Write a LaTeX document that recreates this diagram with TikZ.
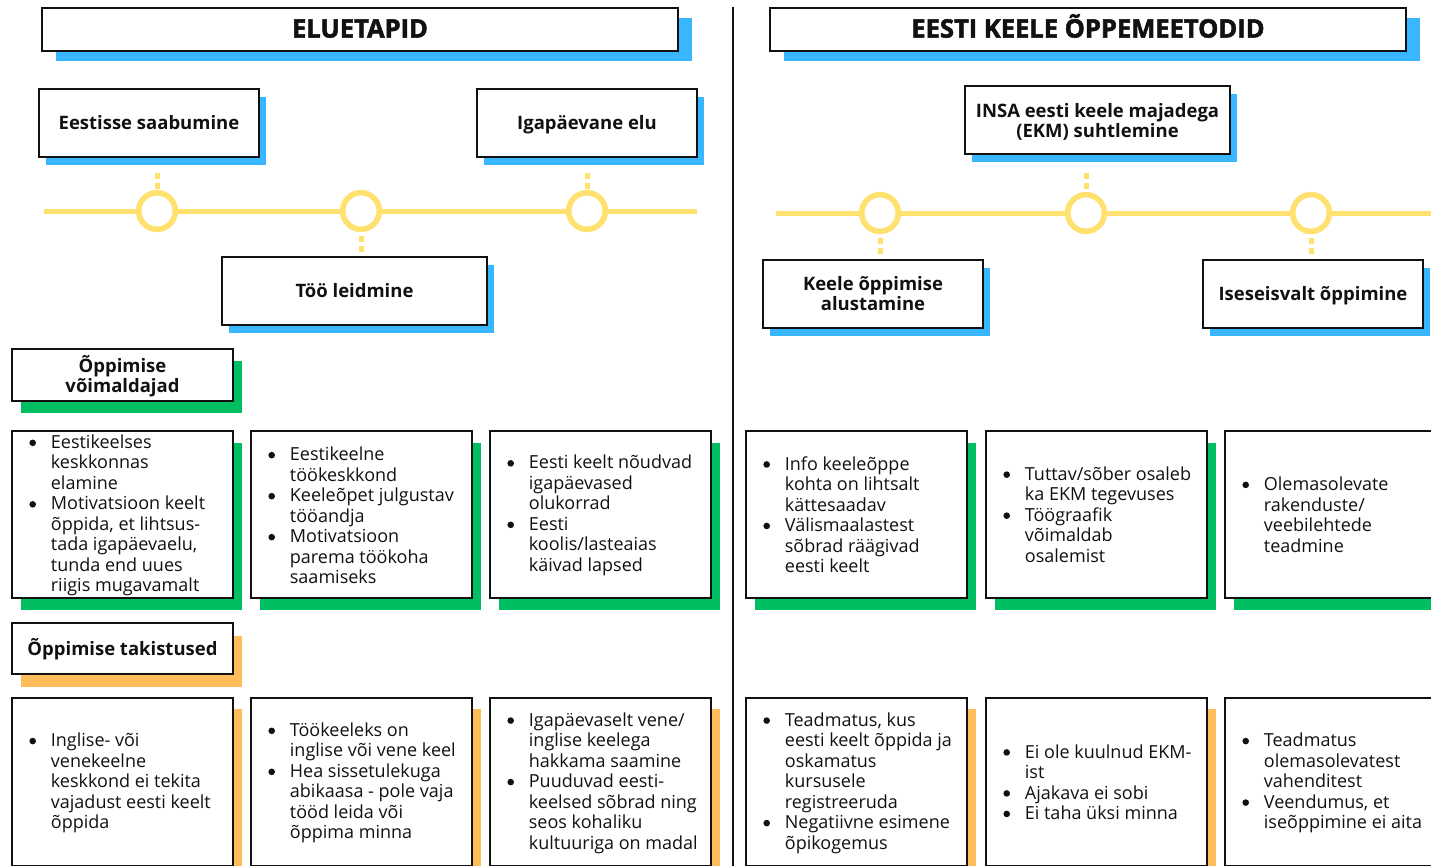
\documentclass[tikz,border=0pt]{standalone}
\usepackage{fontspec}
\setmainfont{Open Sans}
\newfontfamily\titlefam{Open Sans}[BoldFeatures={FakeBold=2}]
\usetikzlibrary{shadows,calc}
\definecolor{sblue}{HTML}{38B6FF}
\definecolor{sgreen}{HTML}{00BF63}
\definecolor{sorange}{HTML}{FFBD59}
\definecolor{syellow}{HTML}{FFE170}
\definecolor{ink}{HTML}{111111}
\newcommand\bodyfont{\fontsize{18}{20.5}\selectfont}
\newcommand\headfont{\bfseries\fontsize{18.5}{20}\selectfont}
\newcommand\titlefont{\titlefam\bfseries\fontsize{25.5}{30}\selectfont}
\newcommand\bi{\makebox[21.5pt][l]{\tikz[baseline=0pt]\fill[ink] (0pt,5.6pt) circle (3.3pt);}}
\newcommand\ci{\hspace*{21.5pt}}
\tikzset{
  box/.style={draw=ink, line width=2.6pt, fill=white, inner sep=0pt, align=center, text=ink},
  shd/.style n args={3}{general shadow={fill=#1, shadow xshift=#2pt, shadow yshift=-#3pt}},
  titlebox/.style={box, shd={sblue}{14}{10}, minimum width=636pt, minimum height=43pt, font=\titlefont, text height=18.2pt, text depth=2pt},
  stagebox/.style={box, shd={sblue}{7}{8}, minimum height=68pt, font=\headfont},
  oneline/.style={text height=13.4pt, text depth=0pt},
  catbox/.style={box, minimum width=221pt, font=\headfont},
  enbox/.style={box, shd={sgreen}{9}{12}, minimum width=221pt, minimum height=167pt},
  barbox/.style={box, shd={sorange}{9}{11}, minimum width=221pt, minimum height=168pt},
  listtext/.style={anchor=west, align=left, inner sep=0pt, font=\bodyfont, text=ink},
  tl/.style={draw=syellow, line width=5pt},
  ring/.style={circle, draw=syellow, line width=5.5pt, fill=white, minimum size=36.5pt, inner sep=0pt},
  conn/.style={draw=syellow, line width=5pt, dash pattern=on 5.5pt off 4.5pt},
  divider/.style={draw=ink, line width=2.2pt}
}
\begin{document}
\begin{tikzpicture}[x=1pt,y=-1pt]
\useasboundingbox[fill=white] (0,0) rectangle (1431,865);

% divider
\draw[divider] (733,7) -- (733,866);

% titles
\node[titlebox] (t1) at (360,29.5) {ELUETAPID};
\node[titlebox] (t2) at (1088,29.5) {EESTI KEELE ÕPPEMEETODID};

% stage boxes left
\node[stagebox, oneline, minimum width=220pt] (eest) at (149,123) {Eestisse saabumine};
\node[stagebox, oneline, minimum width=220pt] (iga) at (587,123) {Igapäevane elu};
\node[stagebox, oneline, minimum width=265pt] (too) at (354.5,291) {Töö leidmine};
% stage boxes right
\node[stagebox, minimum width=265pt] (insa) at (1097.5,120) {};
\node[font=\headfont, align=center, text=ink, inner sep=0pt] (insat) at ($(insa.center)+(0,2)$) {INSA eesti keele majadega\\(EKM) suhtlemine};
\node[stagebox, minimum width=220pt] (keele) at (873,294) {Keele õppimise\\alustamine};
\node[stagebox, oneline, minimum width=220pt] (ise) at (1313,294) {Iseseisvalt õppimine};

% timelines
\draw[tl] (44,211) -- (697,211);
\draw[tl] (776,213) -- (1431,213);
\coordinate (c1p) at (157,211);
\coordinate (c2p) at (361,211);
\coordinate (c3p) at (587,211);
\coordinate (r1p) at (880,213);
\coordinate (r2p) at (1086,213);
\coordinate (r3p) at (1311,213);
\node[ring] (c1) at (c1p) {};
\node[ring] (c2) at (c2p) {};
\node[ring] (c3) at (c3p) {};
\node[ring] (r1) at (r1p) {};
\node[ring] (r2) at (r2p) {};
\node[ring] (r3) at (r3p) {};
\draw[conn] ($(eest.south -| c1.north)+(0,14.75)$) -- (c1.north);
\draw[conn] ($(iga.south -| c3.north)+(0,14.75)$) -- (c3.north);
\draw[conn] ($(too.north -| c2.south)+(0,-3.75)$) -- (c2.south);
\draw[conn] ($(insa.south -| r2.north)+(0,18)$) -- (r2.north);
\draw[conn] ($(keele.north -| r1.south)+(0,-5)$) -- (r1.south);
\draw[conn] ($(ise.north -| r3.south)+(0,-5)$) -- (r3.south);
% rings again on top of the connector stubs
\node[ring] at (c1p) {};
\node[ring] at (c2p) {};
\node[ring] at (c3p) {};
\node[ring] at (r1p) {};
\node[ring] at (r2p) {};
\node[ring] at (r3p) {};

% category boxes
\node[catbox, shd={sgreen}{9}{12}, minimum height=52pt] (opv) at (122.5,375) {};
\node[font=\headfont, align=center, text=ink, inner sep=0pt] (opvt) at ($(opv.center)+(0,1)$) {Õppimise\\võimaldajad};
\node[catbox, oneline, shd={sorange}{9}{13}, minimum height=51pt] (opt) at (122.5,648.5) {Õppimise takistused};

% enabler boxes
\node[enbox] (e1) at (122.5,514.5) {};
\node[enbox] (e2) at (361.5,514.5) {};
\node[enbox] (e3) at (600.5,514.5) {};
\node[enbox] (e4) at (856.5,514.5) {};
\node[enbox] (e5) at (1096.5,514.5) {};
\node[enbox] (e6) at (1335.5,514.5) {};

\node[listtext] (e1t) at ($(e1.west)+(18.5,1)$) {\bi Eestikeelses\\\ci keskkonnas\\\ci elamine\\\bi Motivatsioon keelt\\\ci õppida, et lihtsus-\\\ci tada igapäevaelu,\\\ci tunda end uues\\\ci riigis mugavamalt};
\node[listtext] (e2t) at ($(e2.west)+(18.5,1)$) {\bi Eestikeelne\\\ci töökeskkond\\\bi Keeleõpet julgustav\\\ci tööandja\\\bi Motivatsioon\\\ci parema töökoha\\\ci saamiseks};
\node[listtext] (e3t) at ($(e3.west)+(18.5,1)$) {\bi Eesti keelt nõudvad\\\ci igapäevased\\\ci olukorrad\\\bi Eesti\\\ci koolis/lasteaias\\\ci käivad lapsed};
\node[listtext] (e4t) at ($(e4.west)+(18.5,0)$) {\bi Info keeleõppe\\\ci kohta on lihtsalt\\\ci kättesaadav\\\bi Välismaalastest\\\ci sõbrad räägivad\\\ci eesti keelt};
\node[listtext] (e5t) at ($(e5.west)+(18.5,0)$) {\bi Tuttav/sõber osaleb\\\ci ka EKM tegevuses\\\bi Töögraafik\\\ci võimaldab\\\ci osalemist};
\node[listtext] (e6t) at ($(e6.west)+(18.5,0)$) {\bi Olemasolevate\\\ci rakenduste/\\\ci veebilehtede\\\ci teadmine};

% barrier boxes
\node[barbox] (b1) at (122.5,782) {};
\node[barbox] (b2) at (361.5,782) {};
\node[barbox] (b3) at (600.5,782) {};
\node[barbox] (b4) at (856.5,782) {};
\node[barbox] (b5) at (1096.5,782) {};
\node[barbox] (b6) at (1335.5,782) {};

\node[listtext] (b1t) at ($(b1.west)+(18.5,1)$) {\bi Inglise- või\\\ci venekeelne\\\ci keskkond ei tekita\\\ci vajadust eesti keelt\\\ci õppida};
\node[listtext] (b2t) at ($(b2.west)+(18.5,1)$) {\bi Töökeeleks on\\\ci inglise või vene keel\\\bi Hea sissetulekuga\\\ci abikaasa - pole vaja\\\ci tööd leida või\\\ci õppima minna};
\node[listtext] (b3t) at ($(b3.west)+(18.5,1)$) {\bi Igapäevaselt vene/\\\ci inglise keelega\\\ci hakkama saamine\\\bi Puuduvad eesti-\\\ci keelsed sõbrad ning\\\ci seos kohaliku\\\ci kultuuriga on madal};
\node[listtext] (b4t) at ($(b4.west)+(18.5,1)$) {\bi Teadmatus, kus\\\ci eesti keelt õppida ja\\\ci oskamatus\\\ci kursusele\\\ci registreeruda\\\bi Negatiivne esimene\\\ci õpikogemus};
\node[listtext] (b5t) at ($(b5.west)+(18.5,0)$) {\bi Ei ole kuulnud EKM-\\\ci ist\\\bi Ajakava ei sobi\\\bi Ei taha üksi minna};
\node[listtext] (b6t) at ($(b6.west)+(18.5,1)$) {\bi Teadmatus\\\ci olemasolevatest\\\ci vahenditest\\\bi Veendumus, et\\\ci iseõppimine ei aita};
\end{tikzpicture}
\end{document}
